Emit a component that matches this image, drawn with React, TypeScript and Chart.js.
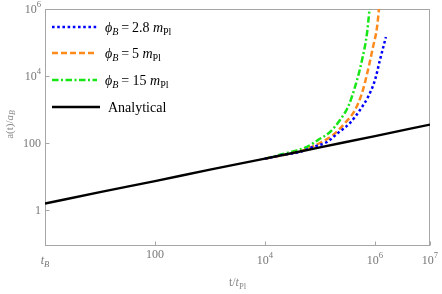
import { useEffect, useRef } from "react";
import { Chart, registerables } from "chart.js";

Chart.register(...registerables);

// ---------- data ----------
const analyticalT = [1, 10, 100, 1e3, 1e4, 1e5, 1e6, 1e7];
const analyticalA = [1.56, 3.4, 7.3, 16, 34, 74, 160, 354];

const blueT = [1e4, 2.0e4, 4.33e4, 7.46e4, 1.34e5, 2.12e5, 3.51e5, 5.33e5, 7.46e5, 1.0e6, 1.23e6, 1.58e6];
const blueA = [34, 43.5, 54, 76, 107, 199, 395, 966, 2360, 7600, 30000, 146000];

const orangeT = [1e4, 3.23e4, 5.81e4, 1e5, 1.72e5, 2.85e5, 4.33e5, 5.81e5, 7.46e5, 9.2e5, 1.09e6, 1.26e6];
const orangeA = [34, 50, 66, 100, 173, 395, 966, 3110, 15100, 73500, 290000, 3.2e6];

const greenT = [1e4, 2.12e4, 3.51e4, 5.81e4, 9.2e4, 1.52e5, 2.31e5, 3.23e5, 4.33e5, 5.81e5, 7.16e5, 8.5e5];
const greenA = [34, 47, 58, 76, 123, 213, 486, 1190, 4700, 30060, 192000, 3.2e6];

type Seg = { t: string; i?: boolean; s?: "sub" | "sup" };

const seriesLabels: Seg[][] = [
  [{ t: "ϕ", i: true }, { t: "B", i: true, s: "sub" }, { t: "\u2009=\u20092.8 " }, { t: "m", i: true }, { t: "Pl", s: "sub" }],
  [{ t: "ϕ", i: true }, { t: "B", i: true, s: "sub" }, { t: "\u2009=\u20095 " }, { t: "m", i: true }, { t: "Pl", s: "sub" }],
  [{ t: "ϕ", i: true }, { t: "B", i: true, s: "sub" }, { t: "\u2009= 15 " }, { t: "m", i: true }, { t: "Pl", s: "sub" }],
  [{ t: "Analytical" }],
];

const xTickValues = [1, 100, 1e4, 1e6, 1e7];
const xTickLabels: Seg[][] = [
  [{ t: "t", i: true }, { t: "B", i: true, s: "sub" }],
  [{ t: "100" }],
  [{ t: "10" }, { t: "4", s: "sup" }],
  [{ t: "10" }, { t: "6", s: "sup" }],
  [{ t: "10" }, { t: "7", s: "sup" }],
];
const yTickValues = [1, 100, 1e4, 1e6];
const yTickLabels: Seg[][] = [
  [{ t: "1" }],
  [{ t: "100" }],
  [{ t: "10" }, { t: "4", s: "sup" }],
  [{ t: "10" }, { t: "6", s: "sup" }],
];
const xTitle: Seg[] = [{ t: "t/" }, { t: "t", i: true }, { t: "Pl", s: "sub" }];
const yTitle: Seg[] = [{ t: "a(t)/" }, { t: "a", i: true }, { t: "B", i: true, s: "sub" }];

// ---------- styling ----------
const FAMILY = "'Liberation Serif', 'DejaVu Serif', serif";
const COLORS = ["#0000ff", "#ff8a1c", "#16e616", "#000000"];
const DASHES: number[][] = [[2.6, 2.6], [6, 3], [6.5, 2.5, 2, 2.5], []];
const WIDTHS = [2.5, 2.5, 2.5, 2.4];

function segFont(seg: Seg, size: number) {
  const sz = seg.s ? size * 0.72 : size;
  return `${seg.i ? "italic " : ""}${sz}px ${FAMILY}`;
}

function richWidth(ctx: CanvasRenderingContext2D, segs: Seg[], size: number) {
  let w = 0;
  for (const s of segs) {
    ctx.font = segFont(s, size);
    w += ctx.measureText(s.t).width;
  }
  return w;
}

function drawRich(
  ctx: CanvasRenderingContext2D,
  segs: Seg[],
  x: number,
  y: number,
  size: number,
  align: "left" | "center" | "right",
  color: string
) {
  ctx.save();
  ctx.fillStyle = color;
  ctx.textBaseline = "middle";
  ctx.textAlign = "left";
  const w = richWidth(ctx, segs, size);
  let cx = align === "left" ? x : align === "center" ? x - w / 2 : x - w;
  for (const s of segs) {
    ctx.font = segFont(s, size);
    const dy = s.s === "sup" ? -size * 0.4 : s.s === "sub" ? size * 0.3 : 0;
    ctx.fillText(s.t, cx, y + dy);
    cx += ctx.measureText(s.t).width;
  }
  ctx.restore();
}

const decorPlugin = {
  id: "decor",
  beforeDatasetsDraw(chart: any) {
    const { ctx, chartArea: a } = chart;
    const xs = chart.scales.x;
    const ys = chart.scales.y;
    ctx.save();
    ctx.strokeStyle = "#a6a6a6";
    ctx.lineWidth = 1;
    const L = Math.round(a.left) + 0.5;
    const R = Math.round(a.right) - 0.5;
    const T = Math.round(a.top) + 0.5;
    const B = Math.round(a.bottom) - 0.5;
    ctx.strokeRect(L, T, R - L, B - T);
    ctx.beginPath();
    for (const v of xTickValues) {
      const px = Math.round(xs.getPixelForValue(v)) + 0.5;
      ctx.moveTo(px, B);
      ctx.lineTo(px, B - 4);
    }
    for (const v of yTickValues) {
      const py = Math.round(ys.getPixelForValue(v)) + 0.5;
      ctx.moveTo(L, py);
      ctx.lineTo(L + 4, py);
    }
    ctx.stroke();
    ctx.restore();
  },
  afterDraw(chart: any) {
    const { ctx, chartArea: a } = chart;
    const xs = chart.scales.x;
    const ys = chart.scales.y;
    const tickColor = "#777777";
    xTickValues.forEach((v, k) => {
      const px = xs.getPixelForValue(v);
      const hasSup = xTickLabels[k].some((s) => s.s);
      const italic = xTickLabels[k].some((s) => s.i);
      drawRich(ctx, xTickLabels[k], px, a.bottom + (hasSup || italic ? 15 : 9), 12, "center", tickColor);
    });
    yTickValues.forEach((v, k) => {
      const py = ys.getPixelForValue(v);
      drawRich(ctx, yTickLabels[k], a.left - 4, py + 1, 12, "right", tickColor);
    });
    // axis titles
    drawRich(ctx, xTitle, (a.left + a.right) / 2, a.bottom + 37, 12, "center", "#888888");
    ctx.save();
    ctx.translate(10, (a.top + a.bottom) / 2 - 3);
    ctx.rotate(-Math.PI / 2);
    drawRich(ctx, yTitle, 0, 0, 11, "center", "#888888");
    ctx.restore();
    // legend
    const rows = [27, 53, 80, 107];
    seriesLabels.forEach((lab, k) => {
      const y = rows[k];
      ctx.save();
      ctx.strokeStyle = COLORS[k];
      ctx.lineWidth = WIDTHS[k];
      ctx.setLineDash(DASHES[k]);
      ctx.beginPath();
      ctx.moveTo(52, y);
      ctx.lineTo(k === 3 ? 100 : 97, y);
      ctx.stroke();
      ctx.restore();
      drawRich(ctx, lab, k === 3 ? 108 : 105, y + 1, 14, "left", "#000000");
    });
  },
};

export default function App() {
  const ref = useRef<HTMLCanvasElement | null>(null);
  useEffect(() => {
    if (!ref.current) return;
    const series = [
      [blueT, blueA],
      [orangeT, orangeA],
      [greenT, greenA],
      [analyticalT, analyticalA],
    ];
    const chart = new Chart(ref.current, {
      type: "line",
      data: {
        datasets: series.map(([ts, as], k) => ({
          label: String(k),
          data: ts.map((t, i) => ({ x: t, y: as[i] })),
          borderColor: COLORS[k],
          backgroundColor: COLORS[k],
          borderDash: DASHES[k],
          borderWidth: WIDTHS[k],
          pointRadius: 0,
          fill: false,
          order: k === 3 ? -1 : 0,
          cubicInterpolationMode: "monotone" as const,
        })),
      },
      options: {
        animation: false,
        responsive: false,
        events: [],
        layout: { padding: { left: 45, right: 12, top: 9, bottom: 48 } },
        plugins: { legend: { display: false }, tooltip: { enabled: false } },
        scales: {
          x: { type: "logarithmic", min: 1, max: 1e7, display: false },
          y: { type: "logarithmic", min: 0.084, max: 1e6, display: false },
        },
      },
      plugins: [decorPlugin],
    } as any);
    return () => chart.destroy();
  }, []);
  return (
    <div style={{ position: "fixed", left: 0, top: 0, width: 442, height: 294, background: "#fff" }}>
      <canvas ref={ref} width={442} height={294} style={{ display: "block" }} />
    </div>
  );
}
